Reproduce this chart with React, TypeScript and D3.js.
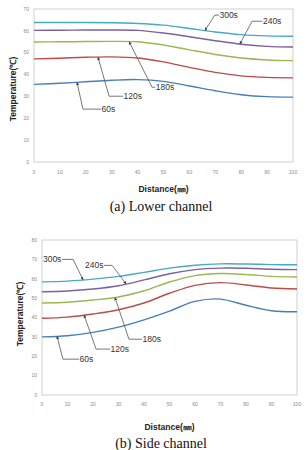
import React from 'react';
import * as d3 from 'd3';

// distance along the channel (mm)
const distance = [0, 10, 20, 30, 40, 50, 60, 70, 80, 90, 100];
const seriesNames = ['60s', '120s', '180s', '240s', '300s'];
const COLORS = ['#4a7ebb', '#be4b48', '#98b954', '#7d60a0', '#46aac5'];

// (a) lower channel temperatures (°C)
const lower60 = [35.5, 36.0, 36.7, 37.4, 37.7, 36.9, 34.8, 32.6, 30.8, 29.9, 29.7];
const lower120 = [47.2, 47.5, 47.9, 48.1, 47.6, 45.8, 43.3, 41.0, 39.4, 38.7, 38.5];
const lower180 = [54.9, 55.0, 55.1, 55.2, 55.0, 53.5, 51.3, 49.2, 47.6, 46.7, 46.4];
const lower240 = [60.2, 60.3, 60.4, 60.4, 60.2, 59.0, 57.3, 55.5, 53.9, 52.9, 52.6];
const lower300 = [63.8, 63.8, 63.8, 63.7, 63.4, 62.6, 61.1, 59.5, 58.3, 57.7, 57.5];

// (b) side channel temperatures (°C)
const side60 = [30.0, 30.6, 32.3, 35.0, 38.8, 43.3, 48.3, 49.5, 46.3, 43.5, 43.0];
const side120 = [39.6, 40.2, 41.8, 44.0, 47.5, 52.5, 56.6, 58.0, 56.8, 55.2, 54.7];
const side180 = [47.5, 47.9, 49.0, 50.6, 53.8, 58.3, 61.6, 62.7, 62.2, 61.2, 60.9];
const side240 = [53.3, 53.7, 54.7, 56.4, 59.4, 62.6, 64.7, 65.5, 65.4, 64.9, 64.7];
const side300 = [58.4, 58.8, 59.8, 61.2, 63.3, 65.5, 67.0, 67.7, 67.6, 67.3, 67.2];

const xTicks = [0, 10, 20, 30, 40, 50, 60, 70, 80, 90, 100];
const lowerYTicks = [0, 10, 20, 30, 40, 50, 60, 70];
const sideYTicks = [0, 10, 20, 30, 40, 50, 60, 70, 80];

// callouts: series index, point on curve, elbow, label start
interface Callout { s: number; ax: number; ex: number; ey: number; tx: number; anchor: 'start' | 'end' }

const lowerCallouts: Callout[] = [
  { s: 4, ax: 66, ex: 69.8, ey: 67.2, tx: 71.4, anchor: 'start' },
  { s: 3, ax: 79.5, ex: 84.2, ey: 64.4, tx: 88.2, anchor: 'start' },
  { s: 2, ax: 36.7, ex: 45.6, ey: 34.2, tx: 46.8, anchor: 'start' },
  { s: 1, ax: 24.7, ex: 29.0, ey: 30.1, tx: 34.4, anchor: 'start' },
  { s: 0, ax: 16.6, ex: 18.9, ey: 24.2, tx: 25.9, anchor: 'start' },
];

const sideCallouts: Callout[] = [
  { s: 4, ax: 16.1, ex: 12.2, ey: 70.0, tx: 7.8, anchor: 'end' },
  { s: 3, ax: 33.0, ex: 27.5, ey: 66.9, tx: 24.3, anchor: 'end' },
  { s: 2, ax: 28.6, ex: 34.1, ey: 28.8, tx: 39.2, anchor: 'start' },
  { s: 1, ax: 16.5, ex: 21.2, ey: 23.7, tx: 26.7, anchor: 'start' },
  { s: 0, ax: 5.9, ex: 8.2, ey: 18.5, tx: 14.5, anchor: 'start' },
];

interface PanelProps {
  id: string;
  series: number[][];
  callouts: Callout[];
  yTicks: number[];
  left: number; right: number; top: number; bottom: number;
  yTitleX: number;
  yTitleY: number;
  xTitleY: number;
  xTickY: number;
  caption: string;
  captionY: number;
}

const Panel: React.FC<PanelProps> = (p) => {
  const x = d3.scaleLinear().domain([0, 100]).range([p.left, p.right]);
  const y = d3.scaleLinear().domain([0, d3.max(p.yTicks) as number]).range([p.bottom, p.top]);
  const line = d3.line<number>()
    .x((_, i) => x(distance[i]))
    .y(d => y(d))
    .curve(d3.curveCatmullRom.alpha(0.5));
  const valueAt = (vals: number[], dx: number) => d3.scaleLinear().domain(distance).range(vals)(dx);
  const midX = (p.left + p.right) / 2;
  const font = "'Liberation Sans', Arial, sans-serif";

  return (
    <g>
      <defs>
        <marker id={`arr-${p.id}`} viewBox="0 0 6 6" refX="5.5" refY="3" markerWidth="4" markerHeight="4" orient="auto">
          <path d="M0,0 L6,3 L0,6 z" fill="#444" />
        </marker>
      </defs>
      <rect x={p.left} y={p.top} width={p.right - p.left} height={p.bottom - p.top}
        fill="none" stroke="#cfcfcf" strokeWidth={1} />
      {p.yTicks.map(t => (
        <text key={`y${t}`} x={p.left - 5} y={y(t)} dy="0.35em" textAnchor="end"
          fontSize={5} fill="#8a8a8a" fontFamily={font}>{t}</text>
      ))}
      {xTicks.map(t => (
        <text key={`x${t}`} x={x(t)} y={p.xTickY} textAnchor="middle"
          fontSize={5} fill="#8a8a8a" fontFamily={font}>{t}</text>
      ))}
      {p.series.map((vals, i) => (
        <path key={seriesNames[i]} d={line(vals) as string} fill="none" stroke={COLORS[i]} strokeWidth={1.4} />
      ))}
      {p.callouts.map(c => {
        const px = x(c.ax);
        const py = y(valueAt(p.series[c.s], c.ax));
        const ex = x(c.ex), ey = y(c.ey);
        const tx = x(c.tx);
        return (
          <g key={`c${c.s}`}>
            <path d={`M${tx},${ey} L${ex},${ey} L${px},${py}`} fill="none" stroke="#555" strokeWidth={0.8}
              markerEnd={`url(#arr-${p.id})`} />
            <text x={c.anchor === 'start' ? tx + 0.5 : tx - 0.5} y={ey} dy="0.35em" textAnchor={c.anchor}
              fontSize={8.5} fill="#333" fontFamily={font}>{seriesNames[c.s]}</text>
          </g>
        );
      })}
      <text x={midX} y={p.xTitleY} textAnchor="middle" fontSize={8.5} fontWeight="bold" fill="#222"
        fontFamily={font}>Distance(㎜)</text>
      <text transform={`translate(${p.yTitleX},${p.yTitleY}) rotate(-90)`} textAnchor="middle" fontSize={8.5}
        fontWeight="bold" fill="#222" fontFamily={font}>Temperature(℃)</text>
      <text x={161} y={p.captionY} textAnchor="middle" fontSize={14} fill="#111"
        fontFamily="'Liberation Serif', 'Times New Roman', serif">{p.caption}</text>
    </g>
  );
};

export default function App() {
  return (
    <svg width={308} height={450} style={{ position: 'absolute', left: 0, top: 0, background: '#fff' }}>
      <rect width={308} height={450} fill="#fff" />
      <Panel id="a" series={[lower60, lower120, lower180, lower240, lower300]} callouts={lowerCallouts}
        yTicks={lowerYTicks} left={34} right={293} top={9} bottom={162}
        yTitleX={16} yTitleY={89} xTitleY={192} xTickY={174} caption="(a) Lower channel" captionY={211} />
      <Panel id="b" series={[side60, side120, side180, side240, side300]} callouts={sideCallouts}
        yTicks={sideYTicks} left={42} right={297} top={240} bottom={395}
        yTitleX={23} yTitleY={314} xTitleY={430} xTickY={406} caption="(b) Side channel" captionY={448} />
    </svg>
  );
}
